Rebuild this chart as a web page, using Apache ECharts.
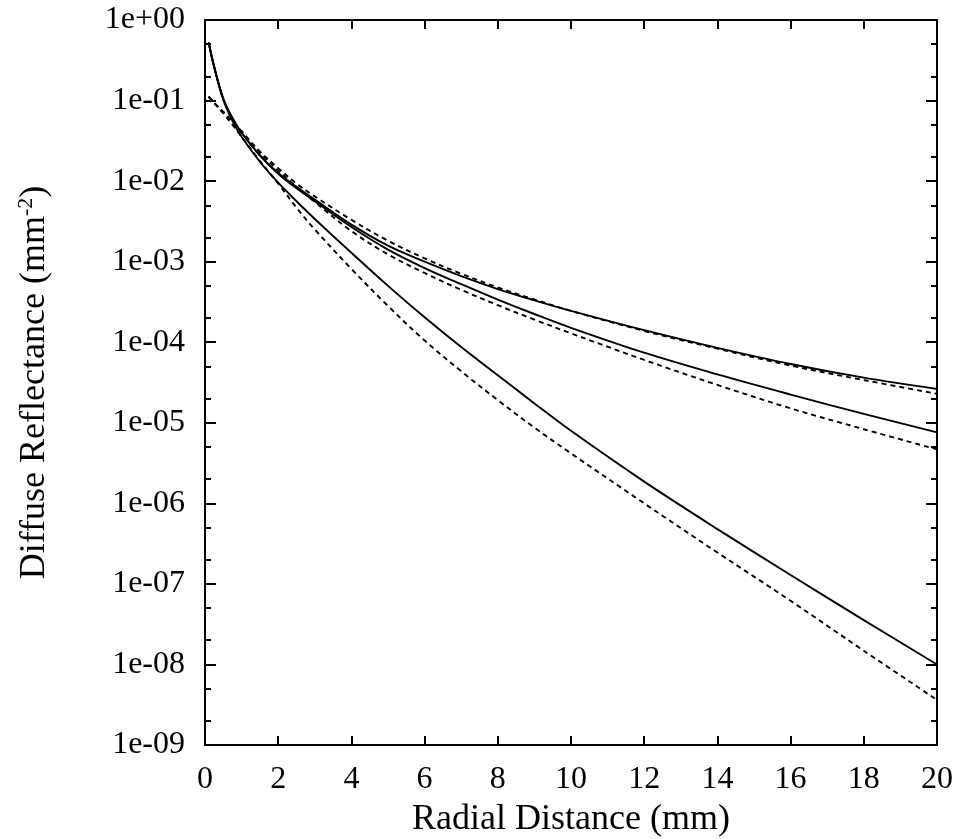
<!DOCTYPE html>
<html>
<head>
<meta charset="utf-8">
<script src="https://cdn.jsdelivr.net/npm/echarts@6/dist/echarts.min.js"></script>
<style>
html,body{margin:0;padding:0;background:#fff;}
#chart{width:958px;height:839px;}
</style>
</head>
<body>
<div id="chart"></div>
<script>
// Radial distance (mm)
var radialDistance = [0.1, 0.25, 0.5, 0.75, 1, 1.5, 2, 2.5, 3, 4, 5, 6, 7, 8, 9, 10, 12, 14, 16, 18, 20];

// Diffuse reflectance (mm^-2)
var solidTop = [5.25e-1, 2.63e-1, 1.05e-1, 6.03e-2, 3.98e-2, 2.09e-2, 1.26e-2, 8.51e-3, 5.89e-3, 2.88e-3, 1.58e-3, 1.00e-3, 6.61e-4, 4.57e-4, 3.31e-4, 2.45e-4, 1.41e-4, 8.51e-5, 5.37e-5, 3.63e-5, 2.63e-5];
var dashedTop = [1.12e-1, 9.33e-2, 7.24e-2, 5.50e-2, 4.17e-2, 2.34e-2, 1.45e-2, 9.33e-3, 6.46e-3, 3.31e-3, 1.82e-3, 1.10e-3, 7.08e-4, 4.79e-4, 3.39e-4, 2.45e-4, 1.38e-4, 8.32e-5, 5.13e-5, 3.39e-5, 2.29e-5];
var solidMiddle = [5.25e-1, 2.63e-1, 1.05e-1, 6.03e-2, 3.98e-2, 2.09e-2, 1.23e-2, 8.13e-3, 5.62e-3, 2.69e-3, 1.41e-3, 8.32e-4, 5.25e-4, 3.39e-4, 2.24e-4, 1.51e-4, 7.41e-5, 3.98e-5, 2.24e-5, 1.29e-5, 7.59e-6];
var dashedMiddle = [1.12e-1, 9.33e-2, 7.24e-2, 5.50e-2, 4.07e-2, 2.24e-2, 1.35e-2, 8.51e-3, 5.50e-3, 2.40e-3, 1.23e-3, 7.24e-4, 4.47e-4, 2.88e-4, 1.91e-4, 1.29e-4, 6.03e-5, 2.95e-5, 1.51e-5, 8.32e-6, 4.68e-6];
var solidBottom = [5.25e-1, 2.63e-1, 1.02e-1, 5.62e-2, 3.55e-2, 1.74e-2, 9.55e-3, 5.62e-3, 3.39e-3, 1.29e-3, 5.01e-4, 2.04e-4, 8.71e-5, 3.89e-5, 1.74e-5, 7.94e-6, 1.86e-6, 4.79e-7, 1.29e-7, 3.55e-8, 1.00e-8];
var dashedBottom = [1.12e-1, 9.33e-2, 6.92e-2, 5.01e-2, 3.55e-2, 1.78e-2, 9.33e-3, 4.68e-3, 2.51e-3, 8.13e-4, 2.82e-4, 1.05e-4, 4.37e-5, 1.91e-5, 8.71e-6, 4.17e-6, 1.00e-6, 2.45e-7, 6.17e-8, 1.48e-8, 3.63e-9];

// Axis ticks
var xTicks = [0, 2, 4, 6, 8, 10, 12, 14, 16, 18, 20];
var yTickLabels = ['1e-09', '1e-08', '1e-07', '1e-06', '1e-05', '1e-04', '1e-03', '1e-02', '1e-01', '1e+00'];
var yMinorTicks = [2e-9, 5e-9, 2e-8, 5e-8, 2e-7, 5e-7, 2e-6, 5e-6, 2e-5, 5e-5, 2e-4, 5e-4, 2e-3, 5e-3, 2e-2, 5e-2, 2e-1, 5e-1];

var FONT = '"Liberation Serif", "DejaVu Serif", serif';

function pairs(ys) {
  return radialDistance.map(function (x, i) { return [x, ys[i]]; });
}
function yLabel(v) {
  var e = Math.round(Math.log(v) / Math.LN10);
  return yTickLabels[e + 9];
}

var chart = echarts.init(document.getElementById('chart'), null, {renderer: 'canvas'});

var lineAxis = {show: true, onZero: false, lineStyle: {color: '#000', width: 2}};
var noLine = {show: false, onZero: false};
function yAxisBase(extra) {
  var a = {
    type: 'log', logBase: 10, min: 1e-9, max: 1, interval: 1,
    splitLine: {show: false}, minorTick: {show: false}, minorSplitLine: {show: false},
    axisLine: lineAxis
  };
  for (var k in extra) a[k] = extra[k];
  return a;
}

var solidStyle = {color: '#000', width: 1.9, type: 'solid'};
var dashStyle = {color: '#000', width: 1.9, type: [5, 4]};
function ser(name, ys, style) {
  return {
    name: name, type: 'line', data: pairs(ys), xAxisIndex: 0, yAxisIndex: 0,
    showSymbol: false, symbol: 'none', smooth: 0.35,
    lineStyle: style, itemStyle: {color: '#000'}, silent: true, animation: false
  };
}

function gridBox() {
  return {left: 205, right: 21, top: 20, bottom: 94, containLabel: false, outerBoundsMode: 'none'};
}

chart.setOption({
  animation: false,
  backgroundColor: '#fff',
  grid: [gridBox(), gridBox(), gridBox()],
  xAxis: [
    {
      gridIndex: 0, type: 'value', min: 0, max: 20, interval: 2, position: 'bottom',
      axisLine: lineAxis, splitLine: {show: false},
      axisTick: {show: true, inside: true, length: 9, lineStyle: {color: '#000', width: 2}},
      axisLabel: {show: true, margin: 19, color: '#000', fontFamily: FONT, fontSize: 32,
        formatter: function (v) { return xTicks.indexOf(v) >= 0 ? String(v) : ''; }},
      name: 'Radial Distance (mm)', nameLocation: 'middle', nameGap: 57,
      nameTextStyle: {color: '#000', fontFamily: FONT, fontSize: 36}
    },
    {
      gridIndex: 0, type: 'value', min: 0, max: 20, interval: 2, position: 'top',
      axisLine: lineAxis, splitLine: {show: false},
      axisTick: {show: true, inside: true, length: 9, lineStyle: {color: '#000', width: 2}},
      axisLabel: {show: false}
    },
    {gridIndex: 1, type: 'value', min: 0, max: 20, show: false},
    {gridIndex: 2, type: 'value', min: 0, max: 20, show: false}
  ],
  yAxis: [
    yAxisBase({
      gridIndex: 0, position: 'left',
      axisTick: {show: true, inside: true, length: 11, lineStyle: {color: '#000', width: 2}},
      axisLabel: {show: true, margin: 20, color: '#000', fontFamily: FONT, fontSize: 32, formatter: yLabel},
      name: '{a|Diffuse Reflectance (mm}{s|-2}{a|)}', nameLocation: 'middle', nameGap: 150,
      nameTextStyle: {color: '#000', fontFamily: FONT, fontSize: 36,
        rich: {
          a: {fontFamily: FONT, fontSize: 36, color: '#000', lineHeight: 40},
          s: {fontFamily: FONT, fontSize: 22, color: '#000', verticalAlign: 'top', lineHeight: 40}
        }}
    }),
    yAxisBase({
      gridIndex: 0, position: 'right',
      axisTick: {show: true, inside: true, length: 11, lineStyle: {color: '#000', width: 2}},
      axisLabel: {show: false}
    }),
    yAxisBase({
      gridIndex: 1, position: 'left', axisLine: noLine,
      axisTick: {show: true, inside: true, length: 6, customValues: yMinorTicks, lineStyle: {color: '#000', width: 2}},
      axisLabel: {show: false}
    }),
    yAxisBase({
      gridIndex: 2, position: 'right', axisLine: noLine,
      axisTick: {show: true, inside: true, length: 6, customValues: yMinorTicks, lineStyle: {color: '#000', width: 2}},
      axisLabel: {show: false}
    })
  ],
  series: [
    ser('solidTop', solidTop, solidStyle),
    ser('dashedTop', dashedTop, dashStyle),
    ser('solidMiddle', solidMiddle, solidStyle),
    ser('dashedMiddle', dashedMiddle, dashStyle),
    ser('solidBottom', solidBottom, solidStyle),
    ser('dashedBottom', dashedBottom, dashStyle)
  ]
});
</script>
</body>
</html>
